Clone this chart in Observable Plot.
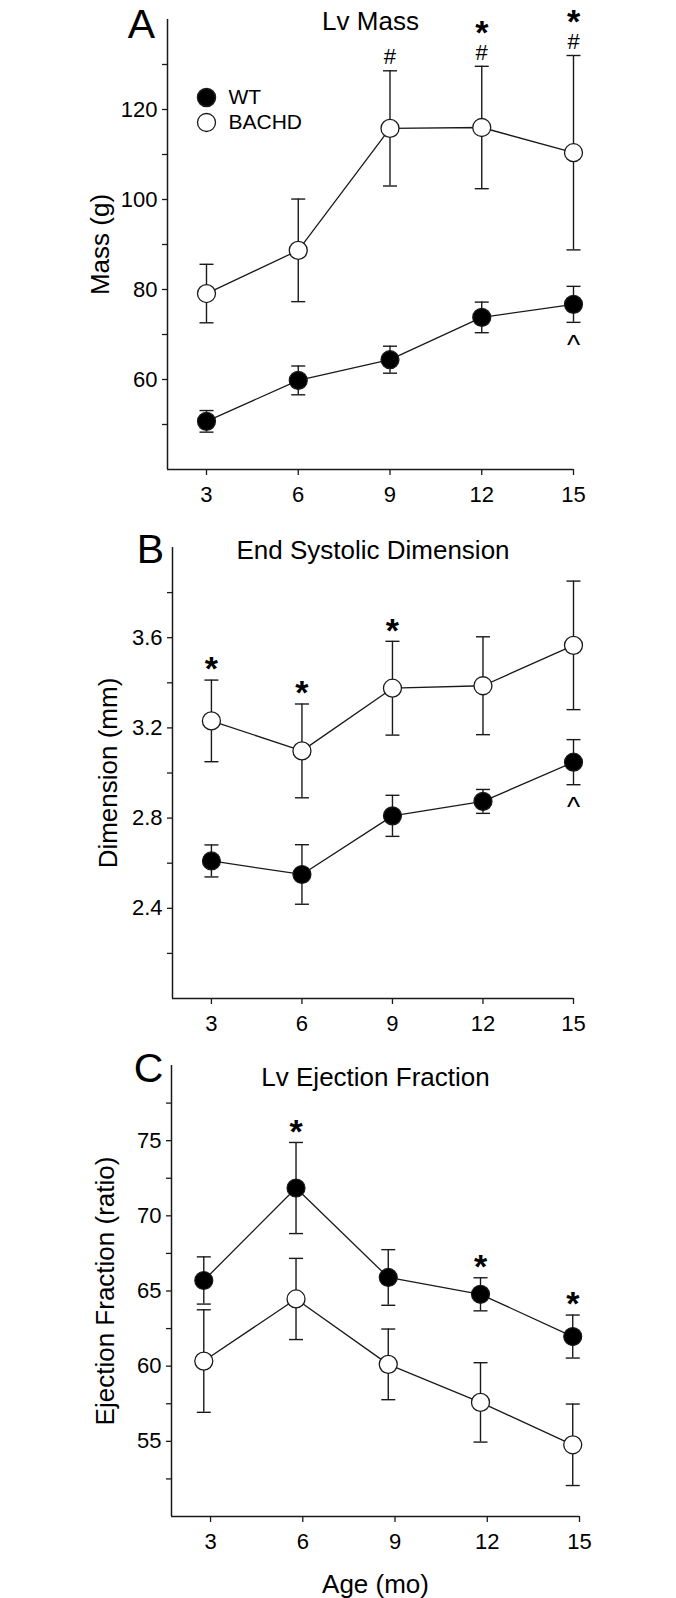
<!DOCTYPE html>
<html>
<head>
<meta charset="utf-8">
<script src="https://cdn.jsdelivr.net/npm/d3@7"></script>
<script src="https://cdn.jsdelivr.net/npm/@observablehq/plot@0.6"></script>
<style>
  body { margin: 0; background: #fff; }
  #chart { width: 676px; height: 1598px; position: relative; background: #fff; }
  #chart svg { display: block; }
  g[aria-label="panel-title"] text { letter-spacing: 1.4px; }
</style>
</head>
<body>
<div id="chart"></div>
<script>
// ---------- data ----------
const months = [3, 6, 9, 12, 15];
const monthsC = [2.78, 5.78, 8.78, 11.78, 14.78]; // panel C points are drawn slightly left of the ticks
const seriesNames = ["WT", "BACHD"];

// Panel A: Lv Mass (g)
const massWT = [50.7, 59.8, 64.4, 73.8, 76.7];
const massWTErr = [2.4, 3.2, 3.0, 3.4, 4.0];
const massBACHD = [79.1, 88.7, 115.8, 116.0, 110.4];
const massBACHDErr = [6.5, 11.4, 12.8, 13.6, 21.6];
const massTicks = [50, 60, 70, 80, 90, 100, 110, 120, 130];
const massLabels = [60, 80, 100, 120];

// Panel B: End Systolic Dimension (mm)
const dimWT = [2.61, 2.55, 2.81, 2.874, 3.048];
const dimWTErr = [0.071, 0.132, 0.091, 0.053, 0.10];
const dimBACHD = [3.231, 3.098, 3.376, 3.387, 3.566];
const dimBACHDErr = [0.181, 0.208, 0.208, 0.217, 0.285];
const dimTicks = [2.2, 2.4, 2.6, 2.8, 3.0, 3.2, 3.4, 3.6, 3.8];
const dimLabels = [2.4, 2.8, 3.2, 3.6];

// Panel C: Lv Ejection Fraction (ratio)
const efWT = [65.7, 71.85, 65.9, 64.78, 61.97];
const efWTErr = [1.57, 3.03, 1.85, 1.1, 1.43];
const efBACHD = [60.34, 64.47, 60.12, 57.59, 54.77];
const efBACHDErr = [3.41, 2.7, 2.35, 2.64, 2.71];
const efTicks = [52.5, 55, 57.5, 60, 62.5, 65, 67.5, 70, 72.5, 75, 77.5];
const efLabels = [55, 60, 65, 70, 75];

// significance marks (month, series)
const hashA = [9, 12, 15];      // '#' above BACHD
const starA = [12, 15];         // '*' above '#'
const caretA = [15];            // '^' below WT
const starB = [3, 6, 9];        // '*' above BACHD
const caretB = [15];            // '^' below WT
const starC = [6, 12, 15];      // '*' above WT

// ---------- helpers ----------
const INK = "#1a1a1a";
const FONT = "'Liberation Sans', Arial, Helvetica, sans-serif";
const capSymbol = {
  draw(context, size) {
    const r = Math.sqrt(size / Math.PI);
    context.moveTo(-r, 0);
    context.lineTo(r, 0);
  }
};

function rowsOf(xs, wt, wtErr, ba, baErr) {
  const rows = [];
  xs.forEach((x, i) => {
    rows.push({month: months[i], x, series: "WT", y: wt[i], lo: wt[i] - wtErr[i], hi: wt[i] + wtErr[i]});
  });
  xs.forEach((x, i) => {
    rows.push({month: months[i], x, series: "BACHD", y: ba[i], lo: ba[i] - baErr[i], hi: ba[i] + baErr[i]});
  });
  return rows;
}

function panel(o) {
  const rows = rowsOf(o.xs, o.wt, o.wtErr, o.ba, o.baErr);
  const marks = [
    Plot.ruleY([o.yDomain[0]], {stroke: INK, strokeWidth: 1.5}),
    Plot.ruleX([o.xDomain[0]], {stroke: INK, strokeWidth: 1.5}),
    // tick marks only (labels drawn below as text marks)
    Plot.axisY({ticks: o.yTicks, tickSize: 5, stroke: INK, strokeWidth: 1.3, tickFormat: () => "", label: null}),
    Plot.axisX({ticks: months, tickSize: 6, stroke: INK, strokeWidth: 1.3, tickFormat: () => "", label: null}),
    // tick labels
    Plot.text(o.yLabels, {x: o.xDomain[0], y: d => d, text: o.fmt, dx: -10, textAnchor: "end", lineAnchor: "middle", fontSize: 22, fill: "#000"}),
    Plot.text(months, {x: d => d, y: o.yDomain[0], text: d => String(d), dy: 17, textAnchor: "middle", lineAnchor: "top", fontSize: 22, fill: "#000"}),
    // error bars
    Plot.ruleX(rows, {x: "x", y1: "lo", y2: "hi", stroke: INK, strokeWidth: 1.4}),
    Plot.dot(rows, {x: "x", y: "lo", symbol: capSymbol, r: 7, stroke: INK, fill: "none", strokeWidth: 1.4}),
    Plot.dot(rows, {x: "x", y: "hi", symbol: capSymbol, r: 7, stroke: INK, fill: "none", strokeWidth: 1.4}),
    // lines
    Plot.line(rows, {x: "x", y: "y", z: "series", stroke: INK, strokeWidth: 1.3}),
    // markers
    Plot.dot(rows.filter(d => d.series === "WT"), {x: "x", y: "y", r: 9, fill: "#000", stroke: INK, strokeWidth: 1.2}),
    Plot.dot(rows.filter(d => d.series === "BACHD"), {x: "x", y: "y", r: 9, fill: "#fff", stroke: INK, strokeWidth: 1.3}),
    // panel letter
    Plot.text([o.letter], {frameAnchor: "top-left", text: d => d, dx: o.letterDx, dy: o.letterDy, textAnchor: "middle", lineAnchor: "bottom", fontSize: 41, fill: "#000"}),
    // title
    Plot.text([o.title], {frameAnchor: "top", text: d => d, dy: o.titleDy, textAnchor: "middle", lineAnchor: "bottom", fontSize: 26, fill: "#000", ariaLabel: "panel-title"}),
    // y label
    Plot.text([o.ylabel], {frameAnchor: "left", text: d => d, rotate: -90, dx: o.ylabelDx, textAnchor: "middle", lineAnchor: "bottom", fontSize: 26, fill: "#000"})
  ];
  for (const a of o.annotations) {
    const sel = rows.filter(d => d.series === a.series && a.months.includes(d.month));
    marks.push(Plot.text(sel, {
      x: "x", y: a.at, text: () => a.symbol, dy: a.dy, lineAnchor: "middle", textAnchor: "middle",
      fontSize: a.size, fontWeight: a.weight || "normal", fill: "#000"
    }));
  }
  if (o.legend) {
    marks.push(
      Plot.dot([0], {frameAnchor: "top-left", dx: 39, dy: 78, r: 9, fill: "#000", stroke: INK}),
      Plot.dot([0], {frameAnchor: "top-left", dx: 39, dy: 103, r: 9, fill: "#fff", stroke: INK, strokeWidth: 1.3}),
      Plot.text([seriesNames[0]], {frameAnchor: "top-left", text: d => d, dx: 61, dy: 78, textAnchor: "start", lineAnchor: "middle", fontSize: 21, fill: "#000"}),
      Plot.text([seriesNames[1]], {frameAnchor: "top-left", text: d => d, dx: 61, dy: 103, textAnchor: "start", lineAnchor: "middle", fontSize: 21, fill: "#000"})
    );
  }
  if (o.xlabel) {
    marks.push(Plot.text([o.xlabel], {frameAnchor: "bottom", text: d => d, dy: o.xlabelDy, textAnchor: "middle", lineAnchor: "bottom", fontSize: 26, fill: "#000"}));
  }
  return Plot.plot({
    width: 676,
    height: o.height,
    marginLeft: o.marginLeft,
    marginRight: o.marginRight,
    marginTop: o.marginTop,
    marginBottom: o.marginBottom,
    x: {domain: o.xDomain},
    y: {domain: o.yDomain},
    style: {fontFamily: FONT, fontSize: "22px", color: INK, background: "#fff", overflow: "visible"},
    marks
  });
}

const chart = document.getElementById("chart");

chart.append(panel({
  height: 530, marginTop: 19, marginBottom: 61, marginLeft: 167, marginRight: 103,
  xDomain: [1.725, 15], yDomain: [40, 140],
  yTicks: massTicks, yLabels: massLabels, fmt: d => String(d),
  xs: months, wt: massWT, wtErr: massWTErr, ba: massBACHD, baErr: massBACHDErr,
  letter: "A", letterDx: -26, letterDy: 18,
  title: "Lv Mass", titleDy: 10,
  ylabel: "Mass (g)", ylabelDx: -59,
  legend: true,
  annotations: [
    {series: "BACHD", months: hashA, at: "hi", symbol: "#", dy: -13.5, size: 22},
    {series: "BACHD", months: starA, at: "hi", symbol: "*", dy: -33, size: 34, weight: "bold"},
    {series: "WT", months: caretA, at: "lo", symbol: "^", dy: 23, size: 28}
  ]
}));

chart.append(panel({
  height: 520, marginTop: 17, marginBottom: 52, marginLeft: 172, marginRight: 103,
  xDomain: [1.71, 15], yDomain: [2.0, 4.0],
  yTicks: dimTicks, yLabels: dimLabels, fmt: d3.format(".1f"),
  xs: months, wt: dimWT, wtErr: dimWTErr, ba: dimBACHD, baErr: dimBACHDErr,
  letter: "B", letterDx: -22, letterDy: 15,
  title: "End Systolic Dimension", titleDy: 11,
  ylabel: "Dimension (mm)", ylabelDx: -56,
  annotations: [
    {series: "BACHD", months: starB, at: "hi", symbol: "*", dy: -10.5, size: 34, weight: "bold"},
    {series: "WT", months: caretB, at: "lo", symbol: "^", dy: 22, size: 28}
  ]
}));

chart.append(panel({
  height: 548, marginTop: 15, marginBottom: 82, marginLeft: 171, marginRight: 97,
  xDomain: [1.73, 15], yDomain: [50, 80],
  yTicks: efTicks, yLabels: efLabels, fmt: d => String(d),
  xs: monthsC, wt: efWT, wtErr: efWTErr, ba: efBACHD, baErr: efBACHDErr,
  letter: "C", letterDx: -23, letterDy: 16,
  title: "Lv Ejection Fraction", titleDy: 20,
  ylabel: "Ejection Fraction (ratio)", ylabelDx: -57.5,
  xlabel: "Age (mo)", xlabelDy: 76,
  annotations: [
    {series: "WT", months: starC, at: "hi", symbol: "*", dy: -10.5, size: 34, weight: "bold"}
  ]
}));
</script>
</body>
</html>
